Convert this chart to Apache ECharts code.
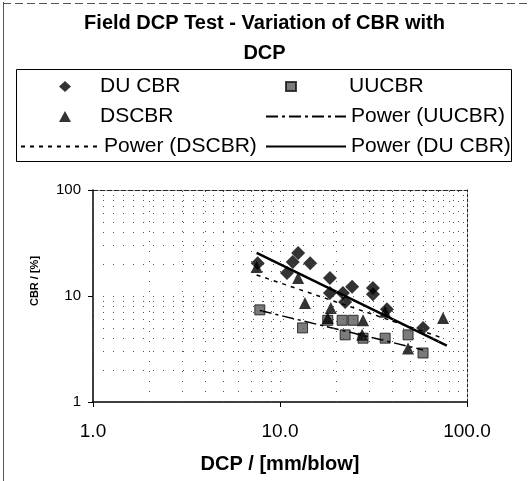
<!DOCTYPE html>
<html>
<head>
<meta charset="utf-8">
<script src="https://cdn.jsdelivr.net/npm/echarts@6/dist/echarts.min.js"></script>
<style>html,body{margin:0;padding:0;background:#fff}#c{width:529px;height:481px}</style>
</head>
<body>
<div id="c"></div>
<script>
// ---- data ----
const duX = [7.6, 12.5, 11.7, 14.5, 10.9, 18.5, 18.5, 24.3, 21.7, 22.3, 31.4, 31.4, 37.3, 58.2];
const duY = [20.4, 25.4, 20.9, 20.4, 16.5, 14.8, 10.7, 12.2, 10.7, 8.8, 11.9, 10.4, 7.5, 5.0];

const dsX = [7.5, 12.5, 13.6, 18.7, 18.0, 27.8, 36.5, 74.5, 27.5, 48.4];
const dsY = [18.8, 14.8, 8.6, 7.7, 6.2, 5.9, 7.1, 6.2, 4.3, 3.2];

const uuX = [7.8, 13.2, 18.0, 21.5, 24.6, 22.3, 27.8, 36.5, 48.4, 58.2];
const uuY = [7.4, 5.0, 5.9, 5.9, 5.9, 4.3, 4.0, 4.0, 4.3, 2.9];

// power trend lines (end points)
const duFitX = [7.5, 78];
const duFitY = [25.5, 3.4];
const dsFitX = [7.5, 74.5];
const dsFitY = [15.8, 4.0];
const uuFitX = [7.8, 58.2];
const uuFitY = [7.3, 3.1];

const xTickValues = [1, 10, 100];
const xTickLabels = ['1.0', '10.0', '100.0'];
const yTickValues = [1, 10, 100];
const yTickLabels = ['1', '10', '100'];

const xGridValues = [2, 3, 4, 5, 6, 7, 8, 9, 10, 20, 30, 40, 50, 60, 70, 80, 90];
const yGridValues = [2, 3, 4, 5, 6, 7, 8, 9, 10, 20, 30, 40, 50, 60, 70, 80, 90];

const titleText = 'Field DCP Test - Variation of CBR with\nDCP';
const xTitle = 'DCP / [mm/blow]';
const yTitle = 'CBR / [%]';
// --------------------------------------

const zip = (xs, ys) => xs.map((x, i) => [x, ys[i]]);
const lookup = (vals, labels) => v => {
  const i = vals.findIndex(t => Math.abs(Math.log10(t) - Math.log10(v)) < 1e-6);
  return i >= 0 ? labels[i] : '';
};
const FONT = 'Liberation Sans, Arial, sans-serif';

const chart = echarts.init(document.getElementById('c'), null, {renderer: 'canvas'});
const gridStyle = {color: '#555', width: 1, type: [1, 9]};
const lineItem = name => ({name: name, itemStyle: {opacity: 0}});
const legendText = pad => ({fontFamily: FONT, fontSize: 21, color: '#000', padding: [0, 0, 0, pad]});

chart.setOption({
  animation: false,
  backgroundColor: '#fff',
  textStyle: {fontFamily: FONT, color: '#000'},
  title: {
    text: titleText, left: 'center', top: 3,
    textStyle: {fontFamily: FONT, fontSize: 20, fontWeight: 'bold', color: '#000', lineHeight: 30}
  },
  legend: [
    {
      data: ['DU CBR', 'DSCBR'],
      orient: 'vertical', left: 59, top: 76, padding: 0,
      itemWidth: 12, itemHeight: 11, itemGap: 9, symbolKeepAspect: true,
      textStyle: legendText(24)
    },
    {
      data: [lineItem('Power (DSCBR)')],
      orient: 'vertical', left: 20, top: 136, padding: 0,
      itemWidth: 78, itemHeight: 11, itemGap: 9,
      textStyle: legendText(0)
    },
    {
      data: ['UUCBR'],
      orient: 'vertical', left: 285, top: 76, padding: 0,
      itemWidth: 10, itemHeight: 9, itemGap: 9, symbolKeepAspect: true,
      textStyle: legendText(48)
    },
    {
      data: [lineItem('Power (UUCBR)'), lineItem('Power (DU CBR)')],
      orient: 'vertical', left: 265, top: 106, padding: 0,
      itemWidth: 80, itemHeight: 11, itemGap: 9,
      textStyle: legendText(0)
    }
  ],
  grid: {left: 93, right: 62, top: 190, bottom: 79},
  xAxis: [
    {
      type: 'log', logBase: 10, min: 1, max: 100,
      name: xTitle, nameLocation: 'middle', nameGap: 52,
      nameTextStyle: {fontFamily: FONT, fontSize: 20, fontWeight: 'bold', color: '#000'},
      axisLine: {lineStyle: {color: '#000', width: 1.5}},
      axisTick: {show: true, inside: false, length: 5, lineStyle: {color: '#000'}},
      axisLabel: {formatter: lookup(xTickValues, xTickLabels), fontSize: 19, color: '#000', margin: 20, fontFamily: FONT},
      splitLine: {show: false}
    },
    {
      type: 'log', logBase: 10, min: 1, max: 100, position: 'top',
      axisLine: {lineStyle: {color: '#222', width: 1, type: [5, 2]}},
      axisTick: {show: false}, axisLabel: {show: false}, splitLine: {show: false}
    }
  ],
  yAxis: [
    {
      type: 'log', logBase: 10, min: 1, max: 100,
      axisLine: {lineStyle: {color: '#000', width: 1.5}},
      axisTick: {show: true, inside: false, length: 5, lineStyle: {color: '#000'}},
      axisLabel: {formatter: lookup(yTickValues, yTickLabels), fontSize: 15, color: '#000', margin: 12, fontFamily: FONT},
      splitLine: {show: false}
    },
    {
      type: 'log', logBase: 10, min: 1, max: 100, position: 'right',
      axisLine: {lineStyle: {color: '#222', width: 1, type: [3, 2]}},
      axisTick: {show: false}, axisLabel: {show: false}, splitLine: {show: false}
    }
  ],
  graphic: [
    {type: 'line', shape: {x1: 3.5, y1: 2, x2: 3.5, y2: 481}, style: {stroke: '#555', lineWidth: 1}, silent: true},
    {type: 'line', shape: {x1: 3, y1: 3.5, x2: 527, y2: 3.5}, style: {stroke: '#555', lineWidth: 1, lineDash: [8, 4]}, silent: true},
    {type: 'rect', shape: {x: 16.5, y: 69.5, width: 495, height: 92}, style: {fill: null, stroke: '#000', lineWidth: 1}, silent: true},
    {type: 'text', x: 35, y: 281, rotation: Math.PI / 2,
     style: {text: yTitle, font: 'bold 11px ' + FONT, fill: '#000', align: 'center', verticalAlign: 'middle'}, silent: true}
  ],
  series: [
    {
      name: 'grid', type: 'scatter', data: [], silent: true, z: 1,
      markLine: {
        silent: true, symbol: 'none', label: {show: false}, animation: false,
        lineStyle: gridStyle,
        data: xGridValues.map(v => ({xAxis: v})).concat(yGridValues.map(v => ({yAxis: v})))
      }
    },
    {
      name: 'DU CBR', type: 'scatter', symbol: 'diamond', symbolSize: 14, z: 3,
      itemStyle: {color: '#000'}, data: zip(duX, duY)
    },
    {
      name: 'UUCBR', type: 'scatter', symbol: 'rect', symbolSize: 10, z: 3,
      itemStyle: {color: '#5a5a5a', borderColor: '#111', borderWidth: 1}, data: zip(uuX, uuY)
    },
    {
      name: 'DSCBR', type: 'scatter', symbol: 'triangle', symbolSize: 12, z: 3,
      itemStyle: {color: '#000'}, data: zip(dsX, dsY)
    },
    {
      name: 'Power (UUCBR)', type: 'line', symbol: 'none', showSymbol: false, z: 4,
      lineStyle: {color: '#000', width: 1.5, type: [12, 4, 3, 4]}, itemStyle: {color: '#000'},
      data: zip(uuFitX, uuFitY)
    },
    {
      name: 'Power (DSCBR)', type: 'line', symbol: 'none', showSymbol: false, z: 4,
      lineStyle: {color: '#000', width: 1.5, type: [4, 5]}, itemStyle: {color: '#000'},
      data: zip(dsFitX, dsFitY)
    },
    {
      name: 'Power (DU CBR)', type: 'line', symbol: 'none', showSymbol: false, z: 4,
      lineStyle: {color: '#000', width: 2.5, type: 'solid'}, itemStyle: {color: '#000'},
      data: zip(duFitX, duFitY)
    }
  ]
});
</script>
</body>
</html>
